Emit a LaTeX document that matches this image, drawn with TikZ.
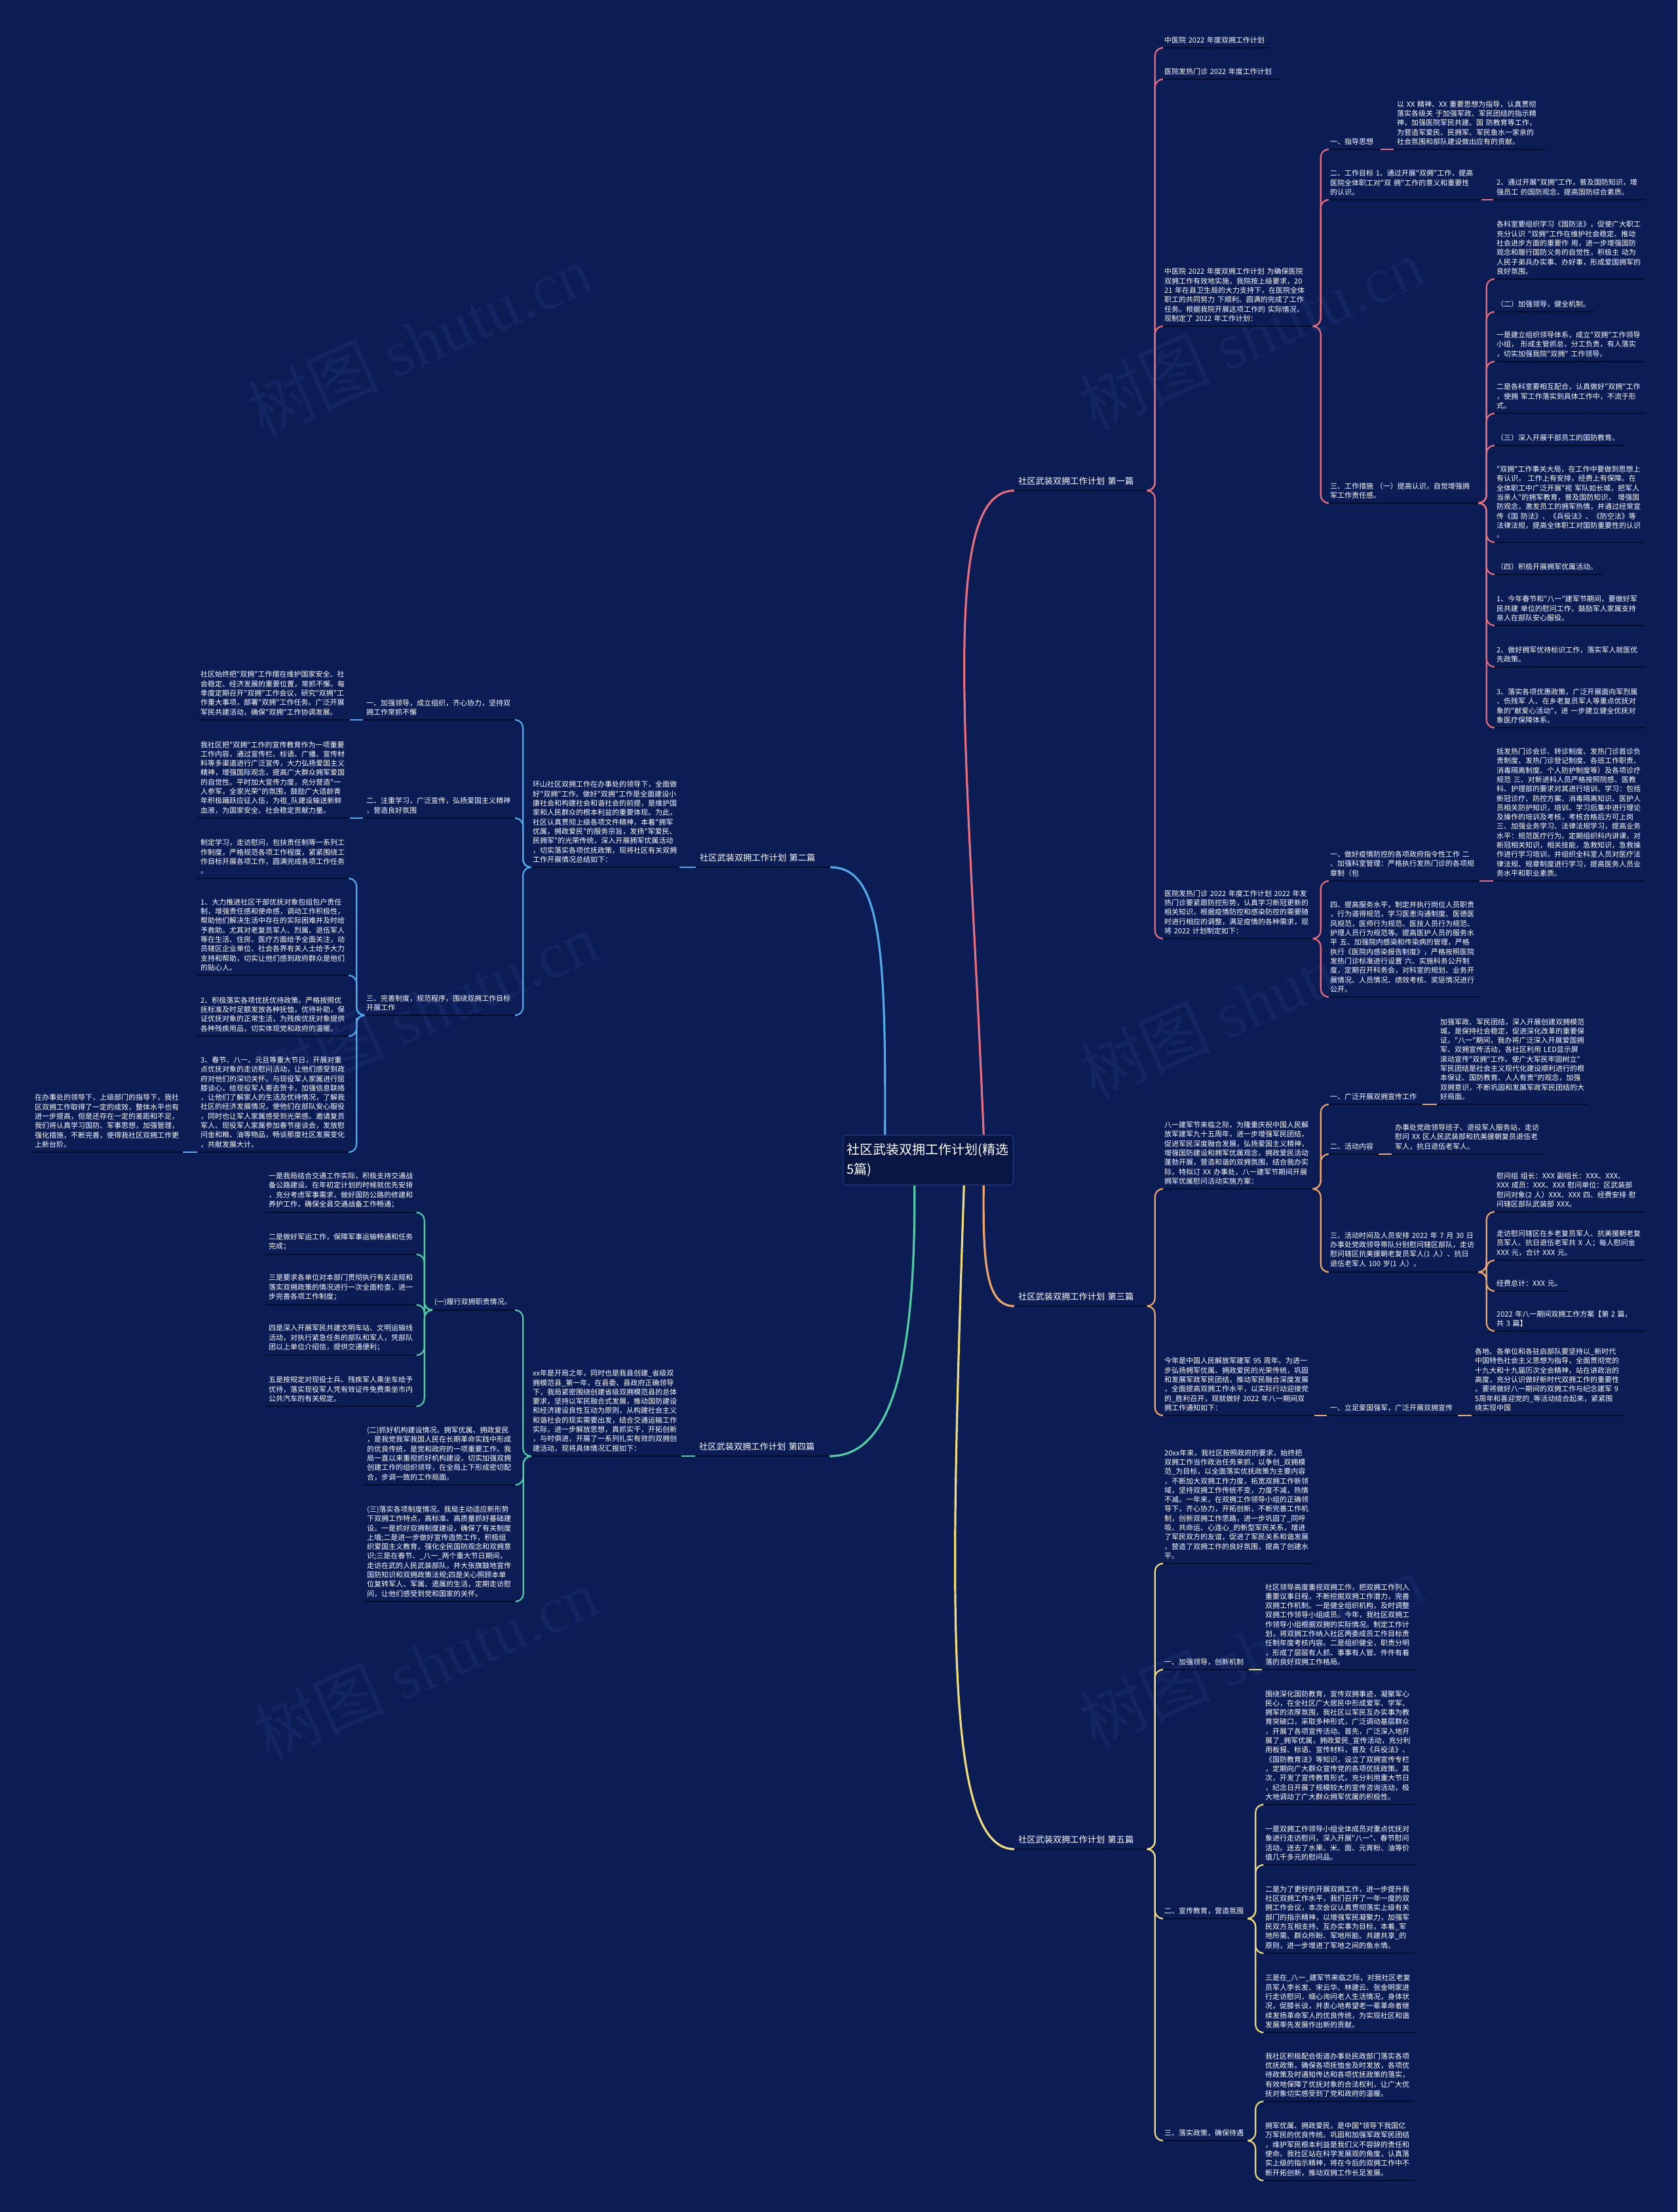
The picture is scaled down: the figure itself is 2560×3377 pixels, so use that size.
\documentclass[tikz,border=0pt]{standalone}
\usepackage{fontspec}
\newfontfamily\cjk{Noto Sans CJK SC}
\newfontfamily\wmserif{Liberation Serif}
\usetikzlibrary{calc}
\definecolor{bgc}{RGB}{11,29,84}
\definecolor{ulc}{RGB}{5,12,40}
\definecolor{pinkc}{RGB}{232,110,125}
\definecolor{bluec}{RGB}{80,170,235}
\definecolor{orangec}{RGB}{240,165,105}
\definecolor{greenc}{RGB}{80,205,165}
\definecolor{yellowc}{RGB}{240,220,120}
\definecolor{wmc}{RGB}{19,37,98}
\definecolor{rootfill}{RGB}{9,22,68}
\definecolor{rootdraw}{RGB}{32,52,122}
\newcommand\ftx{\cjk\fontsize{11pt}{14.3pt}\selectfont}
\newcommand\lnkR[3]{\draw[#1] (#2.south east) -| ($(#2.south east)!.5!(#3.south west)$) |- (#3.south west);}
\newcommand\lnkL[3]{\draw[#1] (#2.south west) -| ($(#2.south west)!.5!(#3.south east)$) |- (#3.south east);}
\newcommand\lnkSR[3]{\draw[#1] (#2.south east) -- (#3.south west);}
\newcommand\lnkSL[3]{\draw[#1] (#2.south west) -- (#3.south east);}
\begin{document}
\begin{tikzpicture}[x=1pt,y=-1pt,
  tx/.style={anchor=south west, text width=#1, inner xsep=5pt, inner ysep=6.5pt, align=left, text=white, font=\ftx},
  blab/.style={anchor=south west, text width=193pt, inner xsep=6pt, inner ysep=8pt, align=left, text=white, font=\cjk\fontsize{13.2pt}{16pt}\selectfont},
  ul/.style={draw=ulc, line width=2.6pt},
  pk/.style={draw=pinkc, line width=2.2pt, rounded corners=12pt},
  bl/.style={draw=bluec, line width=2.2pt, rounded corners=12pt},
  og/.style={draw=orangec, line width=2.2pt, rounded corners=12pt},
  gr/.style={draw=greenc, line width=2.2pt, rounded corners=12pt},
  yl/.style={draw=yellowc, line width=2.2pt, rounded corners=12pt},
  mainc/.style={line width=3.2pt, rounded corners=0pt},
  wm/.style={text=wmc, font=\cjk\fontsize{100pt}{110pt}\selectfont, rotate=24, inner sep=0pt},
  rootn/.style={fill=rootfill, draw=rootdraw, line width=1.5pt, rounded corners=5pt, text width=248pt, inner xsep=6pt, minimum height=76pt, align=left, text=white, font=\cjk\fontsize{20pt}{30pt}\selectfont}
]
\useasboundingbox (0,0) rectangle (2560,3377);
\fill[bgc] (0,0) rectangle (2560,3377);
% watermarks
\node[wm] (wm1) at (640,520) {树图 {\wmserif shutu.cn}};
\node[wm] (wm2) at (1910,510) {树图 {\wmserif shutu.cn}};
\node[wm] (wm3) at (650,1540) {树图 {\wmserif shutu.cn}};
\node[wm] (wm4) at (1910,1530) {树图 {\wmserif shutu.cn}};
\node[wm] (wm5) at (650,2540) {树图 {\wmserif shutu.cn}};
\node[wm] (wm6) at (1910,2520) {树图 {\wmserif shutu.cn}};

% root
\node[rootn] (root) at (1416.5,1771) {社区武装双拥工作计划(精选\\5篇)};

% branch labels
\node[blab] (B1) at (1548,749) {社区武装双拥工作计划~第一篇};
\node[blab] (B3) at (1548,1994) {社区武装双拥工作计划~第三篇};
\node[blab] (B5) at (1548,2823) {社区武装双拥工作计划~第五篇};
\node[blab] (B2) at (1062,1324) {社区武装双拥工作计划~第二篇};
\node[blab] (B4) at (1061,2223) {社区武装双拥工作计划~第四篇};

% ===== Branch 1 =====
\node[tx=155pt] (R1a) at (1772,73) {中医院~2022~年度双拥工作计划};
\node[tx=170pt] (R1b) at (1772,121) {医院发热门诊~2022~年度工作计划};
\node[tx=224pt] (R1c) at (1772,498) {中医院~2022~年度双拥工作计划~为确保医院\\双拥工作有效地实施，我院按上级要求，20\\21~年在县卫生局的大力支持下，在医院全体\\职工的共同努力~下顺利、圆满的完成了工作\\任务。根据我院开展这项工作的~实际情况，\\现制定了~2022~年工作计划：};
\node[tx=72pt] (R1c1) at (2025,228) {一、指导思想};
\node[tx=223pt] (R1c1a) at (2127,228) {以~XX~精神、XX~重要思想为指导，认真贯彻\\落实各级关~于加强军政、军民团结的指示精\\神，加强医院军民共建、国~防教育等工作，\\为营造军爱民、民拥军、军民鱼水一家亲的\\社会氛围和部队建设做出应有的贡献。};
\node[tx=226pt] (R1c2) at (2025,305) {二、工作目标~1、通过开展"双拥"工作，提高\\医院全体职工对"双~拥"工作的意义和重要性\\的认识。};
\node[tx=222pt] (R1c2a) at (2279,305) {2、通过开展"双拥"工作，普及国防知识，增\\强员工~的国防观念，提高国防综合素质。};
\node[tx=223pt] (R1c3) at (2025,768) {三、工作措施~（一）提高认识，自觉增强拥\\军工作责任感。};
\node[tx=222pt] (R1c3a) at (2279,426) {各科室要组织学习《国防法》，促使广大职工\\充分认识~"双拥"工作在维护社会稳定、推动\\社会进步方面的重要作~用，进一步增强国防\\观念和履行国防义务的自觉性，积极主~动为\\人民子弟兵办实事、办好事，形成爱国拥军的\\良好氛围。};
\node[tx=145pt] (R1c3b) at (2279,476) {（二）加强领导，健全机制。};
\node[tx=222pt] (R1c3c) at (2279,552) {一是建立组织领导体系，成立"双拥"工作领导\\小组，~形成主管抓总，分工负责，有人落实\\，切实加强我院"双拥"~工作领导。};
\node[tx=222pt] (R1c3d) at (2279,631) {二是各科室要相互配合，认真做好"双拥"工作\\，使拥~军工作落实到具体工作中，不流于形\\式。};
\node[tx=191pt] (R1c3e) at (2279,680) {（三）深入开展干部员工的国防教育。};
\node[tx=222pt] (R1c3f) at (2279,828) {"双拥"工作事关大局，在工作中要做到思想上\\有认识，~工作上有安排，经费上有保障。在\\全体职工中广泛开展"视~军队如长城，把军人\\当亲人"的拥军教育，普及国防知识，~增强国\\防观念，激发员工的拥军热情，并通过经常宣\\传《国~防法》、《兵役法》、《防空法》等\\法律法规，提高全体职工对国防重要性的认识\\。};
\node[tx=156pt] (R1c3g) at (2279,877) {（四）积极开展拥军优属活动。};
\node[tx=222pt] (R1c3h) at (2279,955) {1、今年春节和"八一"建军节期间，要做好军\\民共建~单位的慰问工作，鼓励军人家属支持\\亲人在部队安心服役。};
\node[tx=222pt] (R1c3i) at (2279,1018) {2、做好拥军优待标识工作，落实军人就医优\\先政策。};
\node[tx=222pt] (R1c3j) at (2279,1111) {3、落实各项优惠政策，广泛开展面向军烈属\\、伤残军~人、在乡老复员军人等重点优抚对\\象的"献爱心活动"，进~一步建立健全优抚对\\象医疗保障体系。};
\node[tx=224pt] (R1d) at (1772,1433) {医院发热门诊~2022~年度工作计划~2022~年发\\热门诊要紧跟防控形势，认真学习新冠更新的\\相关知识，根据疫情防控和感染防控的需要随\\时进行相应的调整，满足疫情的各种需求，现\\将~2022~计划制定如下：};
\node[tx=223pt] (R1d1) at (2025,1345) {一、做好疫情防控的各项政府指令性工作~二\\、加强科室管理：严格执行发热门诊的各项规\\章制（包};
\node[tx=222pt] (R1d1a) at (2279,1345) {括发热门诊会诊、转诊制度、发热门诊首诊负\\责制度、发热门诊登记制度、各班工作职责、\\消毒隔离制度、个人防护制度等）及各项诊疗\\规范~三、对新进科人员严格按照院感、医教\\科、护理部的要求对其进行培训、学习：包括\\新冠诊疗、防控方案、消毒隔离知识、医护人\\员相关防护知识，培训、学习后集中进行理论\\及操作的培训及考核，考核合格后方可上岗\\三、加强业务学习、法律法规学习，提高业务\\水平：规范医疗行为。定期组织科内讲课，对\\新冠相关知识，相关技能，急救知识，急救操\\作进行学习培训，并组织全科室人员对医疗法\\律法规、规章制度进行学习，提高医务人员业\\务水平和职业素质。};
\node[tx=223pt] (R1d2) at (2025,1522) {四、提高服务水平，制定并执行岗位人员职责\\，行为道得规范，学习医患沟通制度、医德医\\风规范，医师行为规范、医技人员行为规范、\\护理人员行为规范等。提高医护人员的服务水\\平~五、加强院内感染和传染病的管理，严格\\执行《医院内感染报告制度》，严格按照医院\\发热门诊标准进行设置~六、实施科务公开制\\度，定期召开科务会，对科室的规划、业务开\\展情况、人员情况、绩效考核、奖惩情况进行\\公开。};

% ===== Branch 3 =====
\node[tx=224pt] (R3a) at (1772,1815) {八一建军节来临之际，为隆重庆祝中国人民解\\放军建军九十五周年，进一步增强军民团结，\\促进军民深度融合发展，弘扬爱国主义精神，\\增强国防建设和拥军优属观念，拥政爱民活动\\蓬勃开展，营造和谐的双拥氛围，结合我办实\\际，特拟订~XX~办事处，八一建军节期间开展\\拥军优属慰问活动实施方案：};
\node[tx=136pt] (R3a1) at (2025,1686) {一、广泛开展双拥宣传工作};
\node[tx=221pt] (R3a1a) at (2193,1686) {加强军政、军民团结，深入开展创建双拥模范\\城，是保持社会稳定，促进深化改革的重要保\\证。"八一"期间，我办将广泛深入开展爱国拥\\军、双拥宣传活动，各社区利用~LED显示屏\\滚动宣传"双拥"工作。使广大军民牢固树立"\\军民团结是社会主义现代化建设顺利进行的根\\本保证、国防教育、人人有责"的观念，加强\\双拥意识，不断巩固和发展军政军民团结的大\\好局面。};
\node[tx=69pt] (R3a2) at (2025,1762) {二、活动内容};
\node[tx=223pt] (R3a2a) at (2124,1762) {办事处党政领导班子、退役军人服务站，走访\\慰问~XX~区人民武装部和抗美援朝复员退伍老\\军人，抗日退伍老军人。};
\node[tx=223pt] (R3a3) at (2025,1942) {三、活动时间及人员安排~2022~年~7~月~30~日\\办事处党政领导带队分别慰问辖区部队，走访\\慰问辖区抗美援朝老复员军人(1~人）、抗日\\退伍老军人~100~岁(1~人）。};
\node[tx=222pt] (R3a3a) at (2279,1850) {慰问组~组长：XXX~副组长：XXX、XXX、\\XXX~成员：XXX、XXX~慰问单位：区武装部\\慰问对象(2~人）XXX、XXX~四、经费安排~慰\\问辖区部队武装部~XXX。};
\node[tx=222pt] (R3a3b) at (2279,1924) {走访慰问辖区在乡老复员军人、抗美援朝老复\\员军人、抗日退伍老军共~X~人；每人慰问金\\XXX~元，合计~XXX~元。};
\node[tx=104pt] (R3a3c) at (2279,1971) {经费总计：XXX~元。};
\node[tx=222pt] (R3a3d) at (2279,2032) {2022~年八一期间双拥工作方案【第~2~篇，\\共~3~篇】};
\node[tx=224pt] (R3b) at (1772,2161) {今年是中国人民解放军建军~95~周年。为进一\\步弘扬拥军优属、拥政爱民的光荣传统，巩固\\和发展军政军民团结，推动军民融合深度发展\\，全面提高双拥工作水平，以实际行动迎接党\\的\_胜利召开，现就做好~2022~年八一期间双\\拥工作通知如下：};
\node[tx=190pt] (R3b1) at (2025,2161) {一、立足爱国强军，广泛开展双拥宣传};
\node[tx=222pt] (R3b1a) at (2246,2161) {各地、各单位和各驻启部队要坚持以\_新时代\\中国特色社会主义思想为指导，全面贯彻党的\\十九大和十九届历次全会精神，站在讲政治的\\高度，充分认识做好新时代双拥工作的重要性\\。要将做好八一期间的双拥工作与纪念建军~9\\5周年和喜迎党的\_等活动结合起来，紧紧围\\绕实现中国};

% ===== Branch 5 =====
\node[tx=222pt] (R5a) at (1772,2387) {20xx年来，我社区按照政府的要求，始终把\\双拥工作当作政治任务来抓，以争创\_双拥模\\范\_为目标，以全面落实优抚政策为主要内容\\，不断加大双拥工作力度，拓宽双拥工作新领\\域，坚持双拥工作传统不变，力度不减，热情\\不减。一年来，在双拥工作领导小组的正确领\\导下，齐心协力，开拓创新，不断完善工作机\\制，创新双拥工作思路，进一步巩固了\_同呼\\吸、共命运、心连心\_的新型军民关系，增进\\了军民双方的友谊，促进了军民关系和谐发展\\，营造了双拥工作的良好氛围，提高了创建水\\平。};
\node[tx=124pt] (R5b) at (1772,2549) {一、加强领导，创新机制};
\node[tx=223pt] (R5b1) at (1926,2549) {社区领导高度重视双拥工作，把双拥工作列入\\重要议事日程，不断挖掘双拥工作潜力，完善\\双拥工作机制。一是健全组织机构，及时调整\\双拥工作领导小组成员。今年，我社区双拥工\\作领导小组根据双拥的实际情况。制定工作计\\划，将双拥工作纳入社区两委成员工作目标责\\任制年度考核内容。二是组织健全，职责分明\\，形成了层层有人抓、事事有人管、件件有着\\落的良好双拥工作格局。};
\node[tx=124pt] (R5c) at (1772,2929) {二、宣传教育，营造氛围};
\node[tx=223pt] (R5c1) at (1926,2755) {围绕深化国防教育，宣传双拥事迹，凝聚军心\\民心，在全社区广大居民中形成爱军、学军、\\拥军的浓厚氛围，我社区以军民互办实事为教\\育突破口，采取多种形式，广泛调动基层群众\\，开展了各项宣传活动。首先，广泛深入地开\\展了\_拥军优属，拥政爱民\_宣传活动，充分利\\用板报、标语、宣传材料，普及《兵役法》、\\《国防教育法》等知识，设立了双拥宣传专栏\\，定期向广大群众宣传党的各项优抚政策。其\\次，开发了宣传教育形式，充分利用重大节日\\，纪念日开展了规模较大的宣传咨询活动，极\\大地调动了广大群众拥军优属的积极性。};
\node[tx=223pt] (R5c2) at (1926,2847) {一是双拥工作领导小组全体成员对重点优抚对\\象进行走访慰问，深入开展"八一"、春节慰问\\活动。送去了水果、米、面、元宵粉、油等价\\值几千多元的慰问品。};
\node[tx=223pt] (R5c3) at (1926,2982) {二是为了更好的开展双拥工作，进一步提升我\\社区双拥工作水平，我们召开了一年一度的双\\拥工作会议，本次会议认真贯彻落实上级有关\\部门的指示精神，以增强军民凝聚力，加强军\\民双方互相支持、互办实事为目标，本着\_军\\地所需、群众所盼、军地所能、共建共享\_的\\原则，进一步增进了军地之间的鱼水情。};
\node[tx=223pt] (R5c4) at (1926,3103) {三是在\_八一\_建军节来临之际，对我社区老复\\员军人李长发、宋云华、林建云、张金明家进\\行走访慰问，细心询问老人生活情况，身体状\\况，促膝长谈，并衷心地希望老一辈革命者继\\续发扬革命军人的优良传统，为实现社区和谐\\发展率先发展作出新的贡献。};
\node[tx=124pt] (R5d) at (1772,3268) {三、落实政策，确保待遇};
\node[tx=223pt] (R5d1) at (1926,3208) {我社区积极配合街道办事处民政部门落实各项\\优抚政策，确保各项抚恤金及时发放，各项优\\待政策及时通知传达和各项优抚政策的落实，\\有效地保障了优抚对象的合法权利，让广大优\\抚对象切实感受到了党和政府的温暖。};
\node[tx=223pt] (R5d2) at (1926,3329) {拥军优属、拥政爱民，是中国*领导下我国亿\\万军民的优良传统。巩固和加强军政军民团结\\，维护军民根本利益是我们义不容辞的责任和\\使命。我社区站在科学发展观的角度，认真落\\实上级的指示精神，将在今后的双拥工作中不\\断开拓创新，推动双拥工作长足发展。};

% ===== Branch 2 (left) =====
\node[tx=219pt] (L2a) at (808,1324) {环山社区双拥工作在办事处的领导下，全面做\\好"双拥"工作。做好"双拥"工作是全面建设小\\康社会和构建社会和谐社会的前提，是维护国\\家和人民群众的根本利益的重要体现。为此，\\社区认真贯彻上级各项文件精神，本着"拥军\\优属，拥政爱民"的服务宗旨，发扬"军爱民、\\民拥军"的光荣传统，深入开展拥军优属活动\\，切实落实各项优抚政策，现将社区有关双拥\\工作开展情况总结如下：};
\node[tx=224pt] (L2a1) at (554,1099) {一、加强领导，成立组织，齐心协力，坚持双\\拥工作常抓不懈};
\node[tx=223pt] (L2a1a) at (301,1099) {社区始终把"双拥"工作摆在维护国家安全、社\\会稳定、经济发展的重要位置，常抓不懈。每\\季度定期召开"双拥"工作会议，研究"双拥"工\\作重大事项，部署"双拥"工作任务。广泛开展\\军民共建活动，确保"双拥"工作协调发展。};
\node[tx=224pt] (L2a2) at (554,1249) {二、注重学习，广泛宣传，弘扬爱国主义精神\\，营造良好氛围};
\node[tx=223pt] (L2a2a) at (301,1249) {我社区把"双拥"工作的宣传教育作为一项重要\\工作内容，通过宣传栏、标语、广播、宣传材\\料等多渠道进行广泛宣传，大力弘扬爱国主义\\精神，增强国际观念，提高广大群众拥军爱国\\的自觉性。平时加大宣传力度，充分营造"一\\人参军，全家光荣"的氛围，鼓励广大适龄青\\年积极踊跃应征入伍，为祖\_队建设输送新鲜\\血液，为国家安全、社会稳定贡献力量。};
\node[tx=224pt] (L2a3) at (554,1550) {三、完善制度，规范程序，围绕双拥工作目标\\开展工作};
\node[tx=223pt] (L2a3a) at (301,1341) {制定学习，走访慰问，包扶责任制等一系列工\\作制度，严格规范各项工作程度，紧紧围绕工\\作目标开展各项工作，圆满完成各项工作任务\\。};
\node[tx=223pt] (L2a3b) at (301,1489) {1、大力推进社区干部优抚对象包组包户责任\\制，增强责任感和使命感，调动工作积极性，\\帮助他们解决生活中存在的实际困难并及时给\\予救助。尤其对老复员军人、烈属、退伍军人\\等在生活、住房、医疗方面给予全面关注，动\\员辖区企业单位、社会各界有关人士给予大力\\支持和帮助，切实让他们感到政府群众是他们\\的贴心人。};
\node[tx=223pt] (L2a3c) at (301,1582) {2、积极落实各项优抚优待政策。严格按照优\\抚标准及时足额发放各种抚恤，优待补助，保\\证优抚对象的正常生活，为残疾优抚对象提供\\各种残疾用品，切实体现党和政府的温暖。};
\node[tx=223pt] (L2a3d) at (301,1759) {3、春节、八一、元旦等重大节日，开展对重\\点优抚对象的走访慰问活动，让他们感受到政\\府对他们的深切关怀。与现役军人家属进行屈\\膝谈心，给现役军人寄去贺卡，加强信息联络\\，让他们了解家人的生活及优待情况，了解我\\社区的经济发展情况，使他们在部队安心服役\\，同时也让军人家属感受到光荣感。邀请复员\\军人、现役军人家属参加春节座谈会，发放慰\\问金和粮、油等物品，畅谈那度社区发展变化\\，共献发展大计。};
\node[tx=221pt] (L2a3d1) at (48,1759) {在办事处的领导下，上级部门的指导下，我社\\区双拥工作取得了一定的成效，整体水平也有\\进一步提高，但是还存在一定的差距和不足，\\我们将认真学习国防、军事思想，加强管理，\\强化措施，不断完善，使得我社区双拥工作更\\上新台阶。};

% ===== Branch 4 (left) =====
\node[tx=222pt] (L4a) at (808,2223) {xx年是开局之年，同时也是我县创建\_省级双\\拥模范县\_第一年，在县委、县政府正确领导\\下，我局紧密围绕创建省级双拥模范县的总体\\要求，坚持以军民融合式发展，推动国防建设\\和经济建设良性互动为原则，从构建社会主义\\和谐社会的现实需要出发，结合交通运输工作\\实际，进一步解放思想，真抓实干，开拓创新\\，与时俱进，开展了一系列扎实有效的双拥创\\建活动，现将具体情况汇报如下：};
\node[tx=120pt] (L4a1) at (658,2000) {(一)履行双拥职责情况。};
\node[tx=222pt] (L4a1a) at (405,1851) {一是我局结合交通工作实际，积极支持交通战\\备公路建设。在年初定计划的时候就优先安排\\，充分考虑军事需求，做好国防公路的修建和\\养护工作，确保全县交通战备工作畅通；};
\node[tx=222pt] (L4a1b) at (405,1915) {二是做好军运工作，保障军事运输畅通和任务\\完成；};
\node[tx=222pt] (L4a1c) at (405,1992) {三是要求各单位对本部门贯彻执行有关法规和\\落实双拥政策的情况进行一次全面检查，进一\\步完善各项工作制度；};
\node[tx=222pt] (L4a1d) at (405,2069) {四是深入开展军民共建文明车站、文明运输线\\活动，对执行紧急任务的部队和军人，凭部队\\团以上单位介绍信，提供交通便利；};
\node[tx=222pt] (L4a1e) at (405,2147) {五是按规定对现役士兵、残疾军人乘坐车给予\\优待，落实现役军人凭有效证件免费乘坐市内\\公共汽车的有关规定。};
\node[tx=224pt] (L4a2) at (555,2267) {(二)抓好机构建设情况。拥军优属、拥政爱民\\，是我党我军我国人民在长期革命实践中形成\\的优良传统，是党和政府的一项重要工作。我\\局一直以来重视抓好机构建设，切实加强双拥\\创建工作的组织领导，在全局上下形成密切配\\合，步调一致的工作局面。};
\node[tx=224pt] (L4a3) at (555,2445) {(三)落实各项制度情况。我局主动适应新形势\\下双拥工作特点，高标准、高质量抓好基础建\\设。一是抓好双拥制度建设，确保了有关制度\\上墙;二是进一步做好宣传造势工作，积极组\\织爱国主义教育，强化全民国防观念和双拥意\\识;三是在春节、\_八一\_两个重大节日期间，\\走访在武的人民武装部队，并大张旗鼓地宣传\\国防知识和双拥政策法规;四是关心照顾本单\\位复转军人、军属、遗属的生活，定期走访慰\\问，让他们感受到党和国家的关怀。};

% underlines
\foreach \nn in {B1,B2,B3,B4,B5,R1a,R1b,R1c,R1c1,R1c1a,R1c2,R1c2a,R1c3,R1c3a,R1c3b,R1c3c,R1c3d,R1c3e,R1c3f,R1c3g,R1c3h,R1c3i,R1c3j,R1d,R1d1,R1d1a,R1d2,R3a,R3a1,R3a1a,R3a2,R3a2a,R3a3,R3a3a,R3a3b,R3a3c,R3a3d,R3b,R3b1,R3b1a,R5a,R5b,R5b1,R5c,R5c1,R5c2,R5c3,R5c4,R5d,R5d1,R5d2,L2a,L2a1,L2a1a,L2a2,L2a2a,L2a3,L2a3a,L2a3b,L2a3c,L2a3d,L2a3d1,L4a,L4a1,L4a1a,L4a1b,L4a1c,L4a1d,L4a1e,L4a2,L4a3}
  {\draw[ul] (\nn.south west) -- (\nn.south east);}

% main curves from root
\draw[pk,mainc] ([xshift=-46pt]root.north east) .. controls (1478,1150) and (1430,749) .. (B1.south west);
\draw[og,mainc] ([xshift=-46pt]root.south east) .. controls (1500,1930) and (1505,1994) .. (B3.south west);
\draw[yl,mainc] ([xshift=-76pt]root.south east) .. controls (1450,2450) and (1440,2823) .. (B5.south west);
\draw[bl,mainc] (B2.south east) .. controls (1345,1324) and (1352,1450) .. ([xshift=65pt]root.north west);
\draw[gr,mainc] (B4.south east) .. controls (1370,2223) and (1397,2050) .. ([xshift=110pt]root.south west);

% branch 1 links
\foreach \nn in {R1a,R1b,R1c,R1d} {\lnkR{pk}{B1}{\nn}}
\foreach \nn in {R1c1,R1c2,R1c3} {\lnkR{pk}{R1c}{\nn}}
\lnkSR{pk}{R1c1}{R1c1a}
\lnkSR{pk}{R1c2}{R1c2a}
\foreach \nn in {R1c3a,R1c3b,R1c3c,R1c3d,R1c3e,R1c3f,R1c3g,R1c3h,R1c3i,R1c3j} {\lnkR{pk}{R1c3}{\nn}}
\foreach \nn in {R1d1,R1d2} {\lnkR{pk}{R1d}{\nn}}
\lnkSR{pk}{R1d1}{R1d1a}

% branch 3 links
\lnkR{og}{B3}{R3a}
\lnkR{og}{B3}{R3b}
\foreach \nn in {R3a1,R3a2,R3a3} {\lnkR{og}{R3a}{\nn}}
\lnkSR{og}{R3a1}{R3a1a}
\lnkSR{og}{R3a2}{R3a2a}
\foreach \nn in {R3a3a,R3a3b,R3a3c,R3a3d} {\lnkR{og}{R3a3}{\nn}}
\lnkSR{og}{R3b}{R3b1}
\lnkSR{og}{R3b1}{R3b1a}

% branch 5 links
\foreach \nn in {R5a,R5b,R5c,R5d} {\lnkR{yl}{B5}{\nn}}
\lnkSR{yl}{R5b}{R5b1}
\foreach \nn in {R5c1,R5c2,R5c3,R5c4} {\lnkR{yl}{R5c}{\nn}}
\foreach \nn in {R5d1,R5d2} {\lnkR{yl}{R5d}{\nn}}

% branch 2 links
\lnkSL{bl}{B2}{L2a}
\foreach \nn in {L2a1,L2a2,L2a3} {\lnkL{bl}{L2a}{\nn}}
\lnkSL{bl}{L2a1}{L2a1a}
\lnkSL{bl}{L2a2}{L2a2a}
\foreach \nn in {L2a3a,L2a3b,L2a3c,L2a3d} {\lnkL{bl}{L2a3}{\nn}}
\lnkSL{bl}{L2a3d}{L2a3d1}

% branch 4 links
\lnkSL{gr}{B4}{L4a}
\foreach \nn in {L4a1,L4a2,L4a3} {\lnkL{gr}{L4a}{\nn}}
\foreach \nn in {L4a1a,L4a1b,L4a1c,L4a1d,L4a1e} {\lnkL{gr}{L4a1}{\nn}}
\end{tikzpicture}
\end{document}
